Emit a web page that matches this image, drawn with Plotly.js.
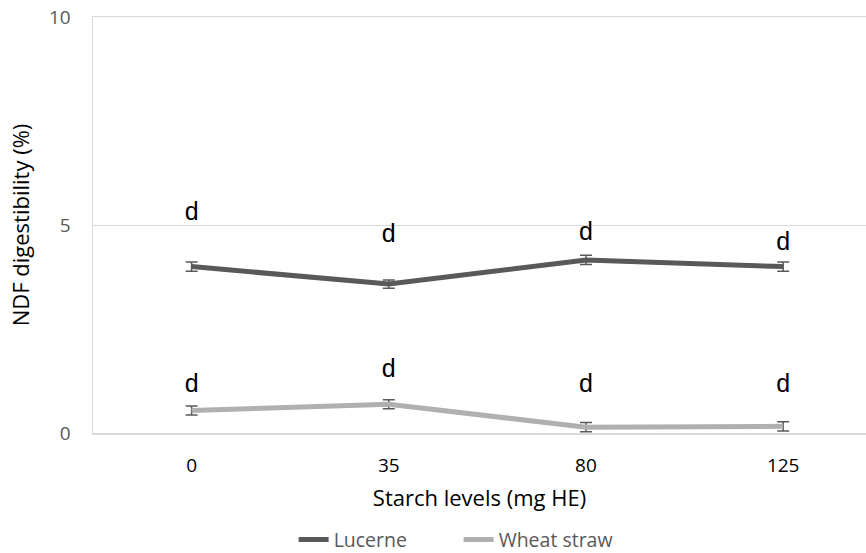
<!DOCTYPE html>
<html>
<head>
<meta charset="utf-8">
<script src="https://cdn.plot.ly/plotly-3.0.1.min.js"></script>
<style>html,body{margin:0;padding:0;background:#fff;}#chart{width:866px;height:553px;}</style>
</head>
<body>
<div id="chart"></div>
<script>
// Data
const categories = ['0', '35', '80', '125'];
const lucerne = [4.00, 3.58, 4.16, 4.00];
const lucerneErr = [0.11, 0.10, 0.11, 0.11];
const wheatStraw = [0.54, 0.69, 0.14, 0.16];
const wheatErr = [0.11, 0.11, 0.11, 0.11];
const lucerneLabels = ['d', 'd', 'd', 'd'];
const wheatLabels = ['d', 'd', 'd', 'd'];
const lucerneLabelY = [5.27, 4.73, 4.78, 4.54];
const wheatLabelY = [1.14, 1.50, 1.14, 1.14];
const yTicks = [0, 5, 10];

const labelFont = {family: '"Liberation Sans", Arial, sans-serif', size: 25, color: '#000', weight: 'normal'};

const traces = [
  {
    x: categories, y: lucerne, name: 'Lucerne', type: 'scatter', mode: 'lines',
    line: {color: '#595959', width: 5},
    error_y: {type: 'data', array: lucerneErr, visible: true, color: '#595959', thickness: 1.5, width: 6}
  },
  {
    x: categories, y: wheatStraw, name: 'Wheat straw', type: 'scatter', mode: 'lines',
    line: {color: '#b0b0b0', width: 5},
    error_y: {type: 'data', array: wheatErr, visible: true, color: '#595959', thickness: 1.5, width: 6}
  },
  {
    x: categories, y: lucerneLabelY, text: lucerneLabels, type: 'scatter', mode: 'text',
    textfont: labelFont, showlegend: false, hoverinfo: 'skip'
  },
  {
    x: categories, y: wheatLabelY, text: wheatLabels, type: 'scatter', mode: 'text',
    textfont: labelFont, showlegend: false, hoverinfo: 'skip'
  }
];

const layout = {
  width: 866, height: 553,
  margin: {l: 93, r: 0, t: 17, b: 120, autoexpand: false},
  paper_bgcolor: '#fff', plot_bgcolor: '#fff',
  font: {family: '"Open Sans", sans-serif', color: '#595959'},
  showlegend: true,
  legend: {
    orientation: 'h', x: 0.473, xanchor: 'center', y: -0.257, yanchor: 'middle',
    font: {size: 19.5, color: '#595959'}, itemwidth: 30, tracegroupgap: 0,
    entrywidth: 120, entrywidthmode: 'pixels'
  },
  xaxis: {
    type: 'category', range: [-0.5, 3.42],
    showgrid: false, zeroline: false,
    showline: true, mirror: true, linecolor: '#d9d9d9', linewidth: 1.5,
    ticks: '', ticklabelstandoff: 15, tickfont: {size: 19, color: '#000'},
    title: {text: 'Starch levels (mg HE)', font: {size: 22, color: '#000'}, standoff: 13},
    automargin: false
  },
  yaxis: {
    range: [0, 10], tickvals: yTicks, ticktext: yTicks.map(String),
    showgrid: true, gridcolor: '#d9d9d9', gridwidth: 1,
    zeroline: false,
    showline: true, linecolor: '#d9d9d9', linewidth: 1.5,
    ticks: '', ticklabelstandoff: 17,
    tickfont: {size: 19, color: '#595959'},
    title: {text: 'NDF digestibility (%)', font: {size: 22, color: '#000'}, standoff: 13},
    automargin: false
  }
};

Plotly.newPlot('chart', traces, layout, {displayModeBar: false, staticPlot: true});
</script>
</body>
</html>
